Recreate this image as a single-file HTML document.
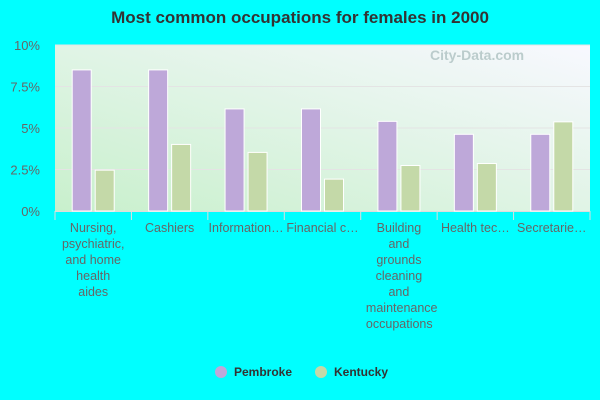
<!DOCTYPE html>
<html><head><meta charset="utf-8"><style>
body{margin:0;background:#00ffff;font-family:"Liberation Sans",sans-serif;}
#wrap{position:relative;width:600px;height:400px;overflow:hidden;}
.title{position:absolute;left:0;width:600px;top:8px;text-align:center;font-size:17px;font-weight:bold;color:#333;}
.lab{position:absolute;text-align:center;font-size:12.5px;line-height:16px;color:#666;top:220px;}
.leg{position:absolute;top:365px;font-size:12px;font-weight:bold;color:#333;}
.dot{position:absolute;top:366px;width:12px;height:12px;border-radius:50%;}
</style></head><body>
<div id="wrap">
<div class="title">Most common occupations for females in 2000</div>
<svg id="svg" width="600" height="400" style="position:absolute;left:0;top:0">
<defs><linearGradient id="bg" x1="0" y1="1" x2="1" y2="0"><stop offset="0" stop-color="#c8f0cc"/><stop offset="1" stop-color="#f8f8ff"/></linearGradient></defs>
<rect x="55" y="45" width="535" height="166" fill="url(#bg)"/>
<text x="430" y="60" font-size="14" fill="#bcc" font-family="Liberation Sans" font-weight="bold">City-Data.com</text>
</svg>
<div class="dot" style="left:215px;background:#bea8d9"></div>
<div class="leg" style="left:234px">Pembroke</div>
<div class="dot" style="left:315px;background:#c4d9a8"></div>
<div class="leg" style="left:334px">Kentucky</div>
</div>
<script>
const categories=["Nursing, psychiatric, and home health aides","Cashiers","Information…","Financial c…","Building and grounds cleaning and maintenance occupations","Health tec…","Secretarie…"];
const pembroke=[8.5,8.5,6.15,6.15,5.4,4.62,4.62];
const kentucky=[2.46,4.01,3.53,1.92,2.74,2.86,5.37];
const ticks=[0,2.5,5,7.5,10];
const tickLabels=["0%","2.5%","5%","7.5%","10%"];
const svg=document.getElementById('svg'),wrap=document.getElementById('wrap');
const NS="http://www.w3.org/2000/svg";
const x0=55,x1=590,yb=211,yt=45;
const y=v=>yb-(v/10)*(yb-yt);
const cw=(x1-x0)/categories.length;
function el(t,a){const e=document.createElementNS(NS,t);for(const k in a)e.setAttribute(k,a[k]);svg.appendChild(e);return e;}
ticks.forEach((t,i)=>{
 if(t>0){const g=el('line',{x1:x0,x2:x1,y1:y(t),y2:y(t),stroke:'#e4e4e4','stroke-width':1});
 
 }
 const tx=el('text',{x:40,y:y(t)+5,'text-anchor':'end','font-size':13,fill:'#666','font-family':'Liberation Sans'});
 tx.textContent=tickLabels[i];
 
 
});
const ax=el('line',{x1:x0,x2:x1,y1:yb+0.5,y2:yb+0.5,stroke:'#ddd'});


for(let i=0;i<=categories.length;i++){const t=el('line',{x1:x0+i*cw,x2:x0+i*cw,y1:yb,y2:yb+9,stroke:'#ddd'});
 
 }
categories.forEach((c,i)=>{
 const cx=x0+cw*(i+0.5);
 const b1=el('rect',{x:cx-21,y:y(pembroke[i]),width:19,height:yb-y(pembroke[i]),fill:'#bea8d9',stroke:'#fff','stroke-width':1});
 
 
 const b2=el('rect',{x:cx+2,y:y(kentucky[i]),width:19,height:yb-y(kentucky[i]),fill:'#c4d9a8',stroke:'#fff','stroke-width':1});
 
 
 const d=document.createElement('div');d.className='lab';
 let w=66;
 if(c.endsWith('…')){d.style.whiteSpace='nowrap';w=80;}
 d.style.width=w+'px';d.style.left=(cx-w/2)+'px';
 d.textContent=c;
 
 
 wrap.appendChild(d);
});
</script>
</body></html>
